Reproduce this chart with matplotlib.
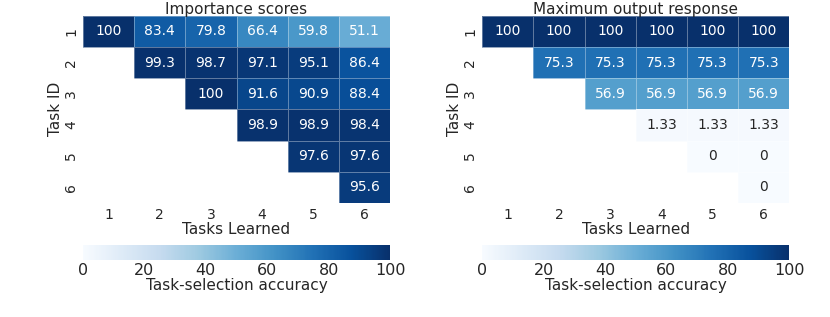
import numpy as np
import matplotlib
matplotlib.use("Agg")
import matplotlib.pyplot as plt
import seaborn as sns

tasks = [1, 2, 3, 4, 5, 6]

# rows = task ID, columns = tasks learned (upper triangle only)
importance_rows = [
    [100, 83.4, 79.8, 66.4, 59.8, 51.1],
    [np.nan, 99.3, 98.7, 97.1, 95.1, 86.4],
    [np.nan, np.nan, 100, 91.6, 90.9, 88.4],
    [np.nan, np.nan, np.nan, 98.9, 98.9, 98.4],
    [np.nan, np.nan, np.nan, np.nan, 97.6, 97.6],
    [np.nan, np.nan, np.nan, np.nan, np.nan, 95.6],
]
max_output_rows = [
    [100, 100, 100, 100, 100, 100],
    [np.nan, 75.3, 75.3, 75.3, 75.3, 75.3],
    [np.nan, np.nan, 56.9, 56.9, 56.9, 56.9],
    [np.nan, np.nan, np.nan, 1.33, 1.33, 1.33],
    [np.nan, np.nan, np.nan, np.nan, 0, 0],
    [np.nan, np.nan, np.nan, np.nan, np.nan, 0],
]
titles = ["Importance scores", "Maximum output response"]

sns.set_style("white")
plt.rcParams['font.family'] = ['DejaVu Sans']

fig = plt.figure(figsize=(8.3, 3.17), dpi=100)

lefts = [0.1, 0.581]
for k, (rows, title) in enumerate(zip([importance_rows, max_output_rows], titles)):
    data = np.array(rows, dtype=float)
    mask = np.isnan(data)
    ax = fig.add_axes([lefts[k], 0.36, 0.37, 0.59])
    cax = fig.add_axes([lefts[k], 0.18, 0.37, 0.048])
    sns.heatmap(data, mask=mask, ax=ax, cbar_ax=cax, cmap="Blues", vmin=0, vmax=100,
                annot=True, fmt=".3g", annot_kws={"fontsize": 10},
                linewidths=0.6, linecolor=(1, 1, 1, 0.35),
                xticklabels=tasks, yticklabels=tasks,
                cbar_kws={"orientation": "horizontal", "ticks": [0, 20, 40, 60, 80, 100]})
    ax.set_title(title, fontsize=11, pad=1, color=".15")
    ax.set_xlabel("Tasks Learned", fontsize=11, labelpad=0, color=".15")
    ax.set_ylabel("Task ID", fontsize=11, labelpad=1, color=".15")
    ax.tick_params(length=0, labelsize=10, labelcolor=".15")
    plt.setp(ax.get_yticklabels(), rotation=90, va="center")
    cax.tick_params(length=0, labelsize=11.5, labelcolor=".15", pad=2)
    cax.set_xlabel("Task-selection accuracy", fontsize=11, labelpad=0, color=".15")
    cax.collections[0].set_rasterized(False)

fig.savefig("out.png", dpi=100)
